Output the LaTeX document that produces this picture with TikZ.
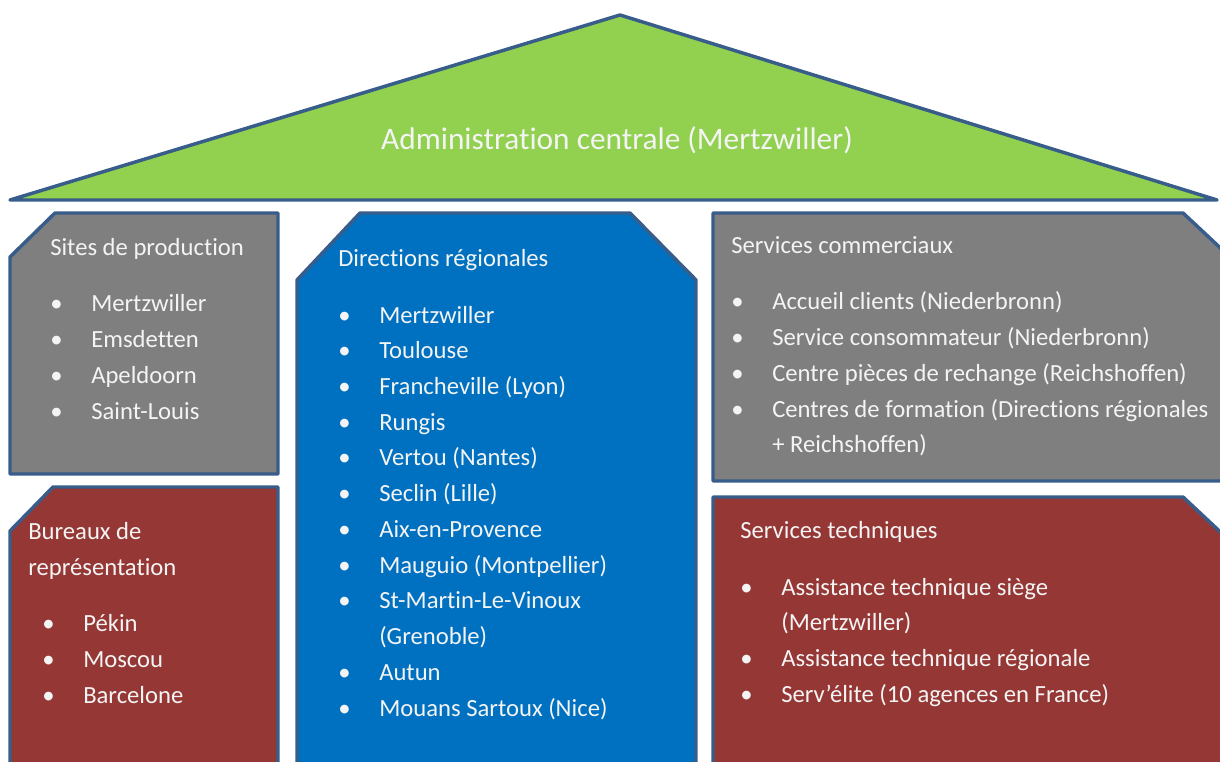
\documentclass[tikz,border=0pt]{standalone}
\usepackage{fontspec}
\setmainfont{Carlito}[Ligatures=CommonOff]
\usepackage{tikz}
\usetikzlibrary{positioning}

\definecolor{roofgreen}{HTML}{92D050}
\definecolor{wallgray}{HTML}{7F7F7F}
\definecolor{wallred}{HTML}{953735}
\definecolor{wallblue}{HTML}{0070C0}
\definecolor{edgeblue}{HTML}{385D8A}
\definecolor{paletext}{HTML}{F4F4F4}

\newcommand{\firststrut}{\rule{0pt}{15pt}}
\newcommand{\itm}[1]{\makebox[30.75pt][l]{\textbullet}#1}
\newcommand{\cont}[1]{\hspace*{30.75pt}#1}

\tikzset{
  wall/.style={draw=edgeblue, line width=2.6pt, line join=round},
  boxtext/.style={anchor=north west, inner sep=0pt, align=left, text=paletext,
    font=\fontsize{18.5}{26.8}\selectfont},
  rooftext/.style={inner sep=0pt, text=paletext, font=\fontsize{23.5}{28}\selectfont}
}

\begin{document}
\begin{tikzpicture}[x=0.75pt, y=-0.75pt]

    \useasboundingbox (0,0) rectangle (1220,762);
    \clip (0,0) rectangle (1220,762);

    % roof
    \filldraw[wall, fill=roofgreen] (10,200) -- (620,15) -- (1217,200) -- cycle;
    \node[rooftext] (admin) at (617,140) {Administration centrale (Mertzwiller)};

    % left column
    \filldraw[wall, fill=wallgray] (55,213) -- (278,213) -- (278,474) -- (10,474) -- (10,257) -- cycle;
    \filldraw[wall, fill=wallred] (53,487) -- (278,487) -- (278,790) -- (10,790) -- (10,531) -- cycle;

    % middle column
    \filldraw[wall, fill=wallblue] (360,213) -- (630,213) -- (696,280) -- (696,790) -- (297,790) -- (297,280) -- cycle;

    % right column
    \filldraw[wall, fill=wallgray] (713,213) -- (1183,213) -- (1230,257) -- (1230,481) -- (713,481) -- cycle;
    \filldraw[wall, fill=wallred] (713,497) -- (1183,497) -- (1230,541) -- (1230,790) -- (713,790) -- cycle;

    \node[boxtext] (sites) at (50,235) {\firststrut Sites de production\\[15.75pt]
        \itm{Mertzwiller}\\
        \itm{Emsdetten}\\
        \itm{Apeldoorn}\\
        \itm{Saint-Louis}};

    \node[boxtext] (bureaux) at (28,519) {\firststrut Bureaux de\\
        représentation\\[15.75pt]
        \hspace*{10.5pt}\itm{Pékin}\\
        \hspace*{10.5pt}\itm{Moscou}\\
        \hspace*{10.5pt}\itm{Barcelone}};

    \node[boxtext] (directions) at (338,246) {\firststrut Directions régionales\\[15.75pt]
        \itm{Mertzwiller}\\
        \itm{Toulouse}\\
        \itm{Francheville (Lyon)}\\
        \itm{Rungis}\\
        \itm{Vertou (Nantes)}\\
        \itm{Seclin (Lille)}\\
        \itm{Aix-en-Provence}\\
        \itm{Mauguio (Montpellier)}\\
        \itm{St-Martin-Le-Vinoux}\\
        \cont{(Grenoble)}\\
        \itm{Autun}\\
        \itm{Mouans Sartoux (Nice)}};

    \node[boxtext] (commerciaux) at (731,233) {\firststrut Services commerciaux\\[15.75pt]
        \itm{Accueil clients (Niederbronn)}\\
        \itm{Service consommateur (Niederbronn)}\\
        \itm{Centre pièces de rechange (Reichshoffen)}\\
        \itm{Centres de formation (Directions régionales}\\
        \cont{+ Reichshoffen)}};

    \node[boxtext] (techniques) at (740,518) {\firststrut Services techniques\\[15.75pt]
        \itm{Assistance technique siège}\\
        \cont{(Mertzwiller)}\\
        \itm{Assistance technique régionale}\\
        \itm{Serv’élite (10 agences en France)}};

\end{tikzpicture}
\end{document}
